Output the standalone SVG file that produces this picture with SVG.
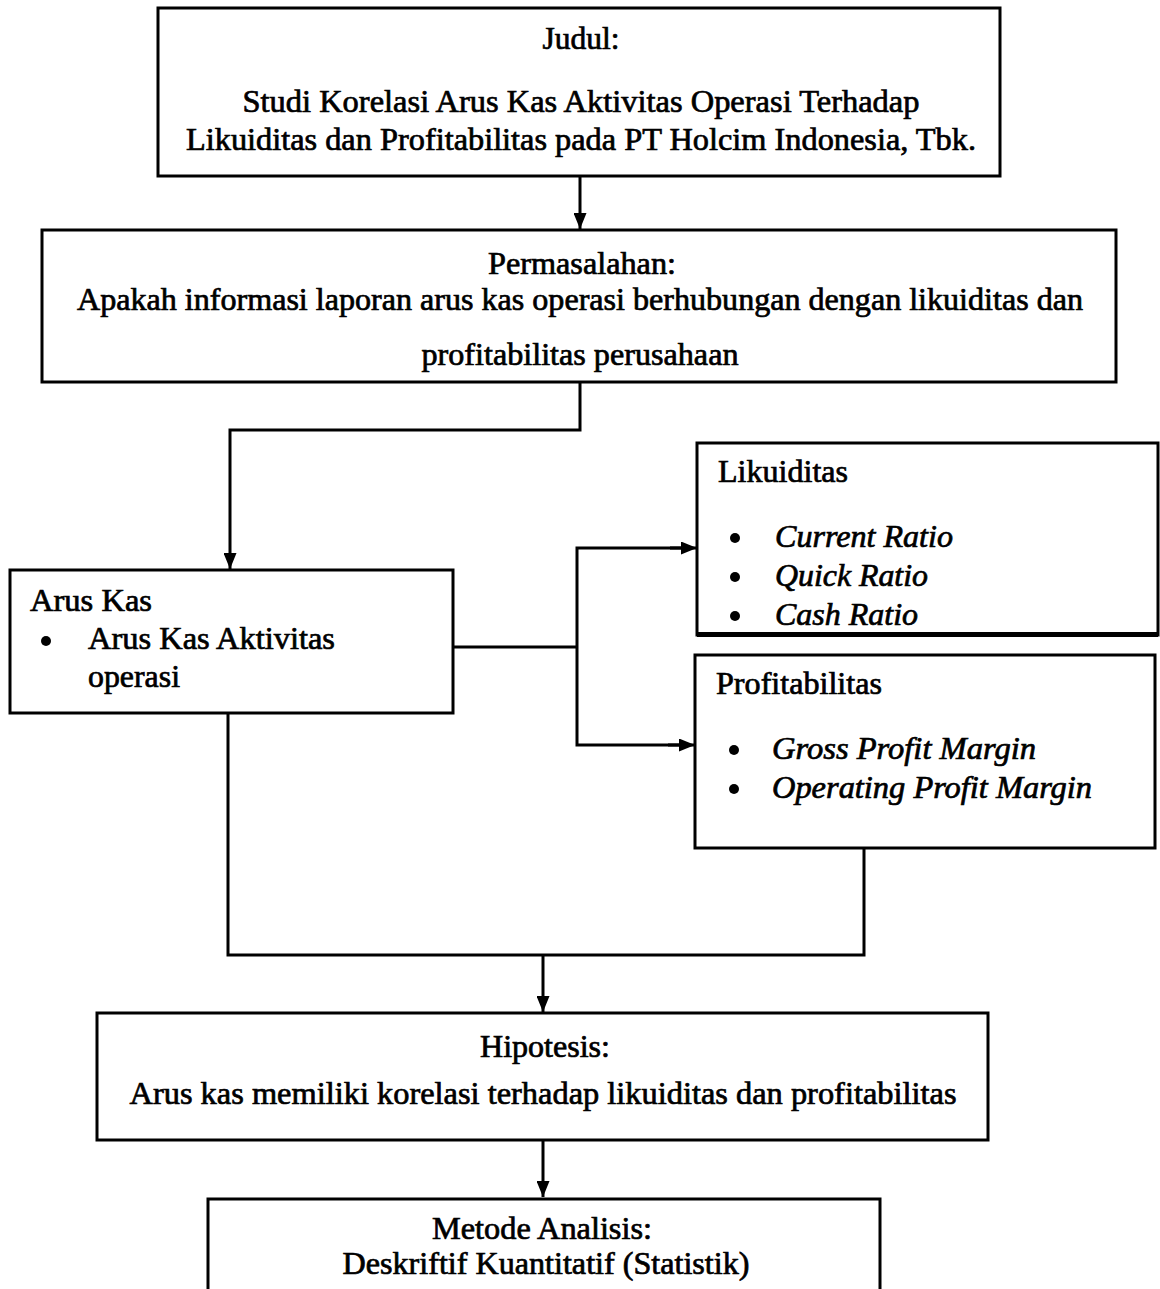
<svg xmlns="http://www.w3.org/2000/svg" width="1160" height="1289" viewBox="0 0 1160 1289">
<defs>
<marker id="arr" markerWidth="16" markerHeight="13" refX="16" refY="6.5" orient="auto" markerUnits="userSpaceOnUse" viewBox="0 0 16 13">
<path d="M0,0 L16,6.5 L0,13 Z" fill="#000"/>
</marker>
<style>
.box{fill:#fff;stroke:#000;stroke-width:3}
.t{font-family:"Liberation Serif","Times New Roman",serif;font-size:31px;fill:#000;stroke:#000;stroke-width:0.7}
.c{text-anchor:middle}
.i{font-style:italic}
.ln{fill:none;stroke:#000;stroke-width:3}
</style>
</defs>
<rect width="1160" height="1289" fill="#fff"/>
<g id="connectors">
<line class="ln" x1="580" y1="176" x2="580" y2="229" marker-end="url(#arr)"/>
<polyline class="ln" points="580,382 580,430 230,430 230,569" marker-end="url(#arr)"/>
<line class="ln" x1="453" y1="647" x2="577" y2="647"/>
<polyline class="ln" points="690,548 577,548 577,745 690,745"/>
<line class="ln" x1="670" y1="548" x2="697" y2="548" marker-end="url(#arr)"/>
<line class="ln" x1="668" y1="745" x2="695" y2="745" marker-end="url(#arr)"/>
<polyline class="ln" points="228,713 228,955 864,955 864,848"/>
<line class="ln" x1="543" y1="955" x2="543" y2="1012" marker-end="url(#arr)"/>
<line class="ln" x1="543" y1="1140" x2="543" y2="1197" marker-end="url(#arr)"/>
</g>
<g id="judul">
<rect class="box" x="158" y="8" width="842" height="168"/>
<text class="t c" x="581" y="49" textLength="77" lengthAdjust="spacingAndGlyphs">Judul:</text>
<text class="t c" x="581" y="112" textLength="677" lengthAdjust="spacingAndGlyphs">Studi Korelasi Arus Kas Aktivitas Operasi Terhadap</text>
<text class="t c" x="581" y="150" textLength="790" lengthAdjust="spacingAndGlyphs">Likuiditas dan Profitabilitas pada PT Holcim Indonesia, Tbk.</text>
</g>
<g id="permasalahan">
<rect class="box" x="42" y="230" width="1074" height="152"/>
<text class="t c" x="582" y="274" textLength="188" lengthAdjust="spacingAndGlyphs">Permasalahan:</text>
<text class="t c" x="580" y="310" textLength="1006" lengthAdjust="spacingAndGlyphs">Apakah informasi laporan arus kas operasi berhubungan dengan likuiditas dan</text>
<text class="t c" x="580" y="365" textLength="317" lengthAdjust="spacingAndGlyphs">profitabilitas perusahaan</text>
</g>
<g id="aruskas">
<rect class="box" x="10" y="570" width="443" height="143"/>
<text class="t" x="30" y="611" textLength="122" lengthAdjust="spacingAndGlyphs">Arus Kas</text>
<circle cx="46" cy="641" r="5"/>
<text class="t" x="88" y="649" textLength="247" lengthAdjust="spacingAndGlyphs">Arus Kas Aktivitas</text>
<text class="t" x="88" y="687" textLength="92" lengthAdjust="spacingAndGlyphs">operasi</text>
</g>
<g id="likuiditas">
<rect class="box" x="697" y="443" width="461" height="192"/>
<text class="t" x="718" y="482" textLength="130" lengthAdjust="spacingAndGlyphs">Likuiditas</text>
<circle cx="735" cy="538" r="5"/>
<text class="t i" x="775" y="547" textLength="178" lengthAdjust="spacingAndGlyphs">Current Ratio</text>
<circle cx="735" cy="577" r="5"/>
<text class="t i" x="775" y="586" textLength="153" lengthAdjust="spacingAndGlyphs">Quick Ratio</text>
<circle cx="735" cy="616" r="5"/>
<text class="t i" x="775" y="625" textLength="143" lengthAdjust="spacingAndGlyphs">Cash Ratio</text>
<rect x="697" y="632" width="461" height="5" fill="#000"/>
</g>
<g id="profitabilitas">
<rect class="box" x="695" y="655" width="460" height="193"/>
<text class="t" x="716" y="694" textLength="166" lengthAdjust="spacingAndGlyphs">Profitabilitas</text>
<circle cx="734" cy="750" r="5"/>
<text class="t i" x="772" y="759" textLength="264" lengthAdjust="spacingAndGlyphs">Gross Profit Margin</text>
<circle cx="734" cy="789" r="5"/>
<text class="t i" x="772" y="798" textLength="320" lengthAdjust="spacingAndGlyphs">Operating Profit Margin</text>
</g>
<g id="hipotesis">
<rect class="box" x="97" y="1013" width="891" height="127"/>
<text class="t c" x="545" y="1057" textLength="130" lengthAdjust="spacingAndGlyphs">Hipotesis:</text>
<text class="t c" x="543" y="1104" textLength="827" lengthAdjust="spacingAndGlyphs">Arus kas memiliki korelasi terhadap likuiditas dan  profitabilitas</text>
</g>
<g id="metode">
<rect class="box" x="208" y="1199" width="672" height="120"/>
<text class="t c" x="542" y="1239" textLength="220" lengthAdjust="spacingAndGlyphs">Metode Analisis:</text>
<text class="t c" x="546" y="1274" textLength="407" lengthAdjust="spacingAndGlyphs">Deskriftif Kuantitatif (Statistik)</text>
</g>
</svg>
